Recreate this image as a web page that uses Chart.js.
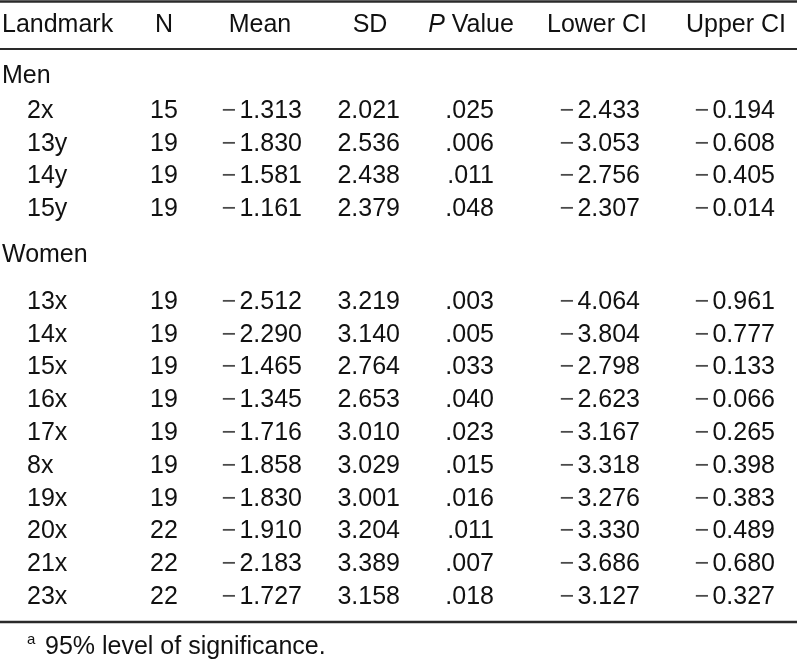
<!DOCTYPE html>
<html>
<head>
<meta charset="utf-8">
<script src="https://cdn.jsdelivr.net/npm/chart.js@4"></script>
<style>
html,body{margin:0;padding:0;background:#fff;}
#wrap{position:relative;width:797px;height:662px;}
canvas{display:block;}
</style>
</head>
<body>
<div id="wrap"><canvas id="c" width="797" height="662"></canvas></div>
<script>
const headers = ["Landmark", "N", "Mean", "SD", "P Value", "Lower CI", "Upper CI"];
const groups = ["Men", "Women"];
const menLandmarks = ["2x", "13y", "14y", "15y"];
const womenLandmarks = ["13x", "14x", "15x", "16x", "17x", "8x", "19x", "20x", "21x", "23x"];
const nValues = [15, 19, 19, 19, 19, 19, 19, 19, 19, 19, 19, 22, 22, 22];
const meanValues = [-1.313, -1.830, -1.581, -1.161, -2.512, -2.290, -1.465, -1.345, -1.716, -1.858, -1.830, -1.910, -2.183, -1.727];
const sdValues = [2.021, 2.536, 2.438, 2.379, 3.219, 3.140, 2.764, 2.653, 3.010, 3.029, 3.001, 3.204, 3.389, 3.158];
const pValues = [0.025, 0.006, 0.011, 0.048, 0.003, 0.005, 0.033, 0.040, 0.023, 0.015, 0.016, 0.011, 0.007, 0.018];
const lowerCI = [-2.433, -3.053, -2.756, -2.307, -4.064, -3.804, -2.798, -2.623, -3.167, -3.318, -3.276, -3.330, -3.686, -3.127];
const upperCI = [-0.194, -0.608, -0.405, -0.014, -0.961, -0.777, -0.133, -0.066, -0.265, -0.398, -0.383, -0.489, -0.680, -0.327];
const footnoteMark = "a";
const footnoteText = "95% level of significance.";

// ---- Layout (positions in the hidden scale units) ----
const layout = {
  width: 797, height: 662,
  font: "25px 'Liberation Sans', Arial, Helvetica, sans-serif",
  italicFont: "italic 25px 'Liberation Sans', Arial, Helvetica, sans-serif",
  smallFont: "15px 'Liberation Sans', Arial, Helvetica, sans-serif",
  groupX: 2, labelX: 27,
  cols: [
    {x: 2, align: "left"},
    {x: 164, align: "center"},
    {x: 302, align: "right"},
    {x: 400, align: "right"},
    {x: 494, align: "right"},
    {x: 640, align: "right"},
    {x: 775, align: "right"}
  ],
  headerCenters: [null, 164, 260, 370, 471, 597, 736],
  headerY: 25,
  rules: [{y: 1.5, w: 2.5}, {y: 49, w: 2}, {y: 622, w: 2.5}],
  groupY: [76, 255],
  rowStart: [111, 302],
  rowStep: [32.8, 32.8],
  footY: 647
};

// Build row positions
const rowLabels = [...menLandmarks, ...womenLandmarks];
const rowY = [];
menLandmarks.forEach((_, i) => rowY.push(layout.rowStart[0] + i * layout.rowStep[0]));
womenLandmarks.forEach((_, i) => rowY.push(layout.rowStart[1] + i * layout.rowStep[1]));

const fmt3 = v => (v < 0 ? "\u2212" : "") + Math.abs(v).toFixed(3);
const fmtP = v => v.toFixed(3).replace(/^0/, "");

const columns = [
  rowLabels.map(s => s),
  nValues.map(String),
  meanValues.map(fmt3),
  sdValues.map(fmt3),
  pValues.map(fmtP),
  lowerCI.map(fmt3),
  upperCI.map(fmt3)
];

const datasets = columns.map((col, ci) => ({
  label: headers[ci],
  data: col.map((txt, ri) => ({x: ci === 0 ? layout.labelX : layout.cols[ci].x, y: rowY[ri], txt})),
  pointRadius: 0,
  pointHoverRadius: 0,
  showLine: false,
  align: ci === 0 ? "left" : layout.cols[ci].align
}));

const tablePlugin = {
  id: "tableText",
  beforeDatasetsDraw(chart) {
    const ctx = chart.ctx, xs = chart.scales.x, ys = chart.scales.y;
    ctx.save();
    ctx.strokeStyle = "#2a2a2a";
    layout.rules.forEach(r => {
      ctx.lineWidth = r.w;
      const y = ys.getPixelForValue(r.y);
      ctx.beginPath();
      ctx.moveTo(xs.getPixelForValue(0), y);
      ctx.lineTo(xs.getPixelForValue(layout.width), y);
      ctx.stroke();
    });
    ctx.restore();
  },
  afterDatasetsDraw(chart) {
    const ctx = chart.ctx, xs = chart.scales.x, ys = chart.scales.y;
    ctx.save();
    ctx.fillStyle = "#111";
    ctx.textBaseline = "middle";
    const hy = ys.getPixelForValue(layout.headerY);
    headers.forEach((h, i) => {
      if (i === 0) {
        ctx.font = layout.font; ctx.textAlign = "left";
        ctx.fillText(h, xs.getPixelForValue(layout.cols[0].x), hy);
      } else if (h === "P Value") {
        ctx.font = layout.italicFont;
        const wP = ctx.measureText("P").width;
        ctx.font = layout.font;
        const wRest = ctx.measureText(" Value").width;
        const cx = xs.getPixelForValue(layout.headerCenters[i]);
        const x0 = cx - (wP + wRest) / 2;
        ctx.textAlign = "left";
        ctx.font = layout.italicFont; ctx.fillText("P", x0, hy);
        ctx.font = layout.font; ctx.fillText(" Value", x0 + wP, hy);
      } else {
        ctx.font = layout.font; ctx.textAlign = "center";
        ctx.fillText(h, xs.getPixelForValue(layout.headerCenters[i]), hy);
      }
    });
    ctx.font = layout.font; ctx.textAlign = "left";
    groups.forEach((g, i) => ctx.fillText(g, xs.getPixelForValue(layout.groupX), ys.getPixelForValue(layout.groupY[i])));
    chart.data.datasets.forEach((ds, di) => {
      const meta = chart.getDatasetMeta(di);
      meta.data.forEach((el, ri) => {
        const txt = ds.data[ri].txt;
        const x = el.x, y = el.y;
        if (txt.startsWith("\u2212")) {
          const num = txt.slice(1);
          ctx.textAlign = "right";
          ctx.fillStyle = "#111";
          ctx.fillText(num, x, y);
          const w = ctx.measureText(num).width;
          ctx.fillStyle = "#4a4a4a";
          ctx.fillText("\u2212", x - w - 3, y);
          ctx.fillStyle = "#111";
        } else {
          ctx.textAlign = ds.align;
          ctx.fillText(txt, x, y);
        }
      });
    });
    const fy = ys.getPixelForValue(layout.footY);
    ctx.textAlign = "left";
    ctx.font = layout.smallFont;
    ctx.fillText(footnoteMark, xs.getPixelForValue(27), fy - 7);
    ctx.font = layout.font;
    ctx.fillText(footnoteText, xs.getPixelForValue(45), fy);
    ctx.restore();
  }
};

new Chart(document.getElementById("c"), {
  type: "scatter",
  data: {datasets},
  options: {
    responsive: false,
    animation: false,
    devicePixelRatio: 1,
    layout: {padding: 0},
    plugins: {legend: {display: false}, tooltip: {enabled: false}},
    events: [],
    scales: {
      x: {type: "linear", min: 0, max: layout.width, display: false},
      y: {type: "linear", min: 0, max: layout.height, reverse: true, display: false}
    }
  },
  plugins: [tablePlugin]
});
</script>
</body>
</html>
